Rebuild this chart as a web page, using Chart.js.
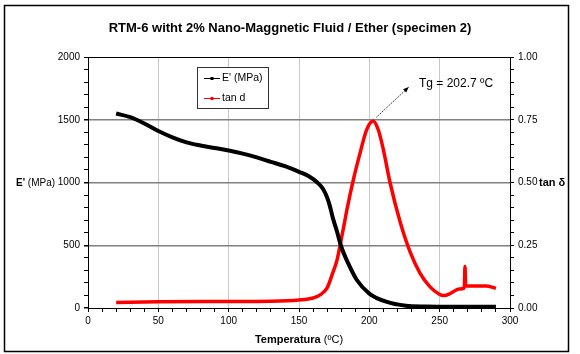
<!DOCTYPE html>
<html>
<head>
<meta charset="utf-8">
<script src="https://cdn.jsdelivr.net/npm/chart.js@4"></script>
<style>
  html, body { margin: 0; padding: 0; background: #fff; }
  #wrap { width: 580px; height: 354px; position: relative; }
</style>
</head>
<body>
<div id="wrap"><canvas id="chart"></canvas></div>
<script>
// E' storage modulus (MPa) vs temperature
const modTemps = [20, 30, 40, 50, 60, 70, 80, 90, 100, 110, 120, 130, 140, 150, 157, 163, 167, 170, 172, 174, 177, 180, 185, 191, 200, 212, 226, 240, 260, 290];
const modValues = [1550, 1520, 1470, 1410, 1360, 1320, 1295, 1275, 1255, 1230, 1200, 1165, 1130, 1085, 1050, 1000, 950, 880, 810, 720, 610, 490, 355, 225, 115, 50, 18, 12, 10, 10];

// tan delta vs temperature
const tanTemps = [20, 50, 100, 130, 150, 160, 165, 170, 174, 177, 179, 182, 184, 188.6, 193.4, 198, 202.7, 206.4, 210, 214.7, 221.8, 228.9, 236, 243, 250, 253, 257, 264, 267.5, 268, 268.5, 275, 283, 288, 290];
const tanValues = [0.022, 0.025, 0.026, 0.027, 0.032, 0.040, 0.052, 0.080, 0.14, 0.19, 0.244, 0.33, 0.39, 0.51, 0.617, 0.709, 0.745, 0.709, 0.63, 0.50, 0.345, 0.225, 0.139, 0.085, 0.054, 0.05, 0.056, 0.076, 0.08, 0.165, 0.088, 0.088, 0.088, 0.082, 0.078];

const seriesNames = ["E' (MPa)", 'tan d'];
const tgLabel = 'Tg = 202.7 ºC';
const chartTitle = 'RTM-6 witht 2% Nano-Maggnetic Fluid / Ether (specimen 2)';

const FONT = '"Liberation Sans", Arial, sans-serif';

const toPoints = (xs, ys) => xs.map((x, i) => ({ x: x, y: ys[i] }));

// draws titles, legend, Tg arrow and the outer frame
const extras = {
    id: 'extras',
    afterDraw(chart) {
        const ctx = chart.ctx;
        const xs = chart.scales.x, y2 = chart.scales.y2;
        ctx.save();
        ctx.fillStyle = '#000';
        ctx.textBaseline = 'middle';

        // title
        ctx.font = 'bold 13px ' + FONT;
        ctx.textAlign = 'center';
        ctx.fillText(chartTitle, 290, 28);

        // left axis title: bold E' + normal (MPa)
        ctx.textAlign = 'left';
        ctx.font = "bold 10px " + FONT;
        ctx.fillText("E'", 16, 183);
        let w = ctx.measureText("E'").width;
        ctx.font = '10px ' + FONT;
        ctx.fillText(' (MPa)', 16 + w, 183);

        // right axis title
        ctx.font = 'bold 11px ' + FONT;
        ctx.fillText('tan δ', 539, 183);

        // x axis title
        ctx.font = 'bold 11px ' + FONT;
        const t1 = 'Temperatura';
        const w1 = ctx.measureText(t1).width;
        ctx.font = '11px ' + FONT;
        const t2 = ' (ºC)';
        const w2 = ctx.measureText(t2).width;
        const sx = 299 - (w1 + w2) / 2;
        ctx.font = 'bold 11px ' + FONT;
        ctx.fillText(t1, sx, 340);
        ctx.font = '11px ' + FONT;
        ctx.fillText(t2, sx + w1, 340);

        // legend box
        ctx.fillStyle = '#fff';
        ctx.fillRect(197.5, 67.5, 71, 41);
        ctx.strokeStyle = '#333';
        ctx.lineWidth = 1;
        ctx.strokeRect(197.5, 67.5, 71, 41);
        const cols = ['#000', '#ff0000'];
        const rows = [78, 98];
        ctx.font = '10.5px ' + FONT;
        chart.data.datasets.forEach((ds, i) => {
            ctx.strokeStyle = cols[i];
            ctx.fillStyle = cols[i];
            ctx.lineWidth = 1;
            ctx.beginPath();
            ctx.moveTo(204, rows[i] + 0.5);
            ctx.lineTo(220, rows[i] + 0.5);
            ctx.stroke();
            ctx.fillRect(210.5, rows[i] - 1, 3, 3);
            ctx.fillStyle = '#000';
            ctx.fillText(ds.label, 222, rows[i]);
        });

        // Tg arrow
        const ax0 = xs.getPixelForValue(205), ay0 = y2.getPixelForValue(0.76);
        const ax1 = xs.getPixelForValue(228), ay1 = y2.getPixelForValue(0.88);
        ctx.strokeStyle = '#000';
        ctx.lineWidth = 0.8;
        ctx.setLineDash([1.5, 1]);
        ctx.beginPath();
        ctx.moveTo(ax0, ay0);
        ctx.lineTo(ax1, ay1);
        ctx.stroke();
        ctx.setLineDash([]);
        const ang = Math.atan2(ay1 - ay0, ax1 - ax0);
        ctx.fillStyle = '#000';
        ctx.beginPath();
        ctx.moveTo(ax1, ay1);
        ctx.lineTo(ax1 - 6 * Math.cos(ang - 0.4), ay1 - 6 * Math.sin(ang - 0.4));
        ctx.lineTo(ax1 - 6 * Math.cos(ang + 0.4), ay1 - 6 * Math.sin(ang + 0.4));
        ctx.closePath();
        ctx.fill();
        ctx.font = '12px ' + FONT;
        ctx.fillText(tgLabel, 419, 84);

        // outer frame
        ctx.strokeStyle = '#000';
        ctx.lineWidth = 1.5;
        ctx.strokeRect(4.5, 5.5, 564, 346);
        ctx.restore();
    }
};

new Chart(document.getElementById('chart'), {
    type: 'line',
    data: {
        datasets: [
            {
                label: seriesNames[0],
                data: toPoints(modTemps, modValues),
                yAxisID: 'y',
                borderColor: '#000',
                backgroundColor: '#000',
                borderWidth: 4,
                pointRadius: 0,
                cubicInterpolationMode: 'monotone'
            },
            {
                label: seriesNames[1],
                data: toPoints(tanTemps, tanValues),
                yAxisID: 'y2',
                borderColor: '#ff0000',
                backgroundColor: '#ff0000',
                borderWidth: 3.5,
                pointRadius: 0,
                cubicInterpolationMode: 'monotone'
            }
        ]
    },
    options: {
        responsive: true,
        maintainAspectRatio: false,
        animation: false,
        layout: { padding: { top: 57, left: 0, right: 0, bottom: 0 } },
        plugins: {
            legend: { display: false },
            title: { display: false },
            tooltip: { enabled: false }
        },
        scales: {
            x: {
                type: 'linear',
                min: 0, max: 300,
                afterFit: s => { s.height = 46; },
                ticks: {
                    stepSize: 10,
                    autoSkip: false,
                    maxRotation: 0,
                    padding: 3,
                    color: '#000',
                    font: { family: FONT, size: 10 },
                    callback: v => (v % 50 === 0 ? v : '')
                },
                grid: {
                    color: c => (c.tick && c.tick.value % 50 === 0 && c.tick.value > 0 && c.tick.value < 300) ? '#c8c8c8' : 'rgba(0,0,0,0)',
                    tickColor: '#000',
                    tickLength: 4,
                    lineWidth: 1
                },
                border: { color: '#000', width: 1 }
            },
            y: {
                position: 'left',
                min: 0, max: 2000,
                afterFit: s => { s.width = 88; },
                ticks: {
                    stepSize: 100,
                    autoSkip: false,
                    padding: 4,
                    color: '#000',
                    font: { family: FONT, size: 10 },
                    callback: v => (v % 500 === 0 ? v : '')
                },
                grid: {
                    color: c => {
                        const v = c.tick ? c.tick.value : 0;
                        if (v === 2000) return '#000';
                        if (v > 0 && v % 500 === 0) return '#808080';
                        return 'rgba(0,0,0,0)';
                    },
                    lineWidth: c => (c.tick && c.tick.value % 500 === 0 && c.tick.value < 2000) ? 1.5 : 1,
                    tickColor: '#000',
                    tickLength: 4
                },
                border: { color: '#000', width: 1 }
            },
            y2: {
                position: 'right',
                min: 0, max: 1,
                afterFit: s => { s.width = 70; },
                ticks: {
                    stepSize: 0.05,
                    autoSkip: false,
                    padding: 4,
                    color: '#000',
                    font: { family: FONT, size: 10 },
                    callback: v => (Math.abs(v * 4 - Math.round(v * 4)) < 1e-6 ? v.toFixed(2) : '')
                },
                grid: {
                    drawOnChartArea: false,
                    tickColor: '#000',
                    tickLength: 4
                },
                border: { color: '#000', width: 1 }
            }
        }
    },
    plugins: [extras]
});
</script>
</body>
</html>
